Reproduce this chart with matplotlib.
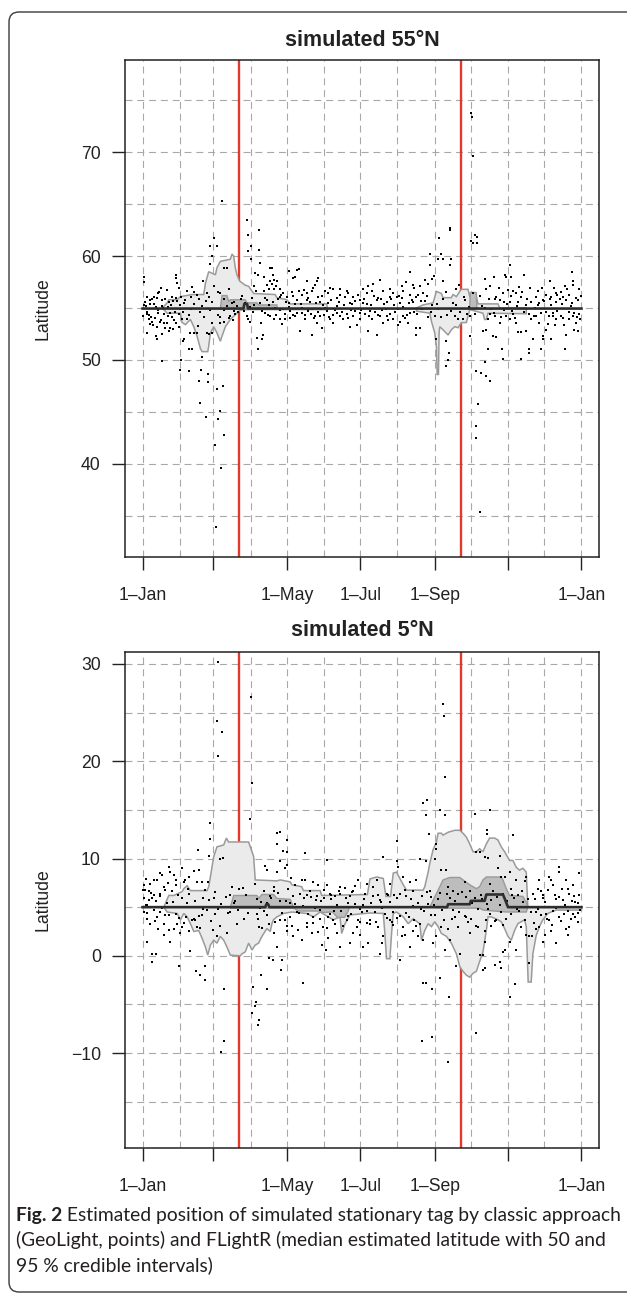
import matplotlib
matplotlib.use('Agg')
import matplotlib.pyplot as plt
from matplotlib.patches import FancyBboxPatch
from matplotlib.transforms import IdentityTransform

plt.rcParams['font.family'] = ['Liberation Sans', 'DejaVu Sans']
plt.rcParams['lines.scale_dashes'] = False

# ---- data (day of year from 1-Jan, latitude) ----
month_starts = [0, 31, 59, 90, 120, 151, 181, 212, 243, 273, 304, 334, 365]
tick_days = [0, 59, 120, 181, 243, 304, 365]
tick_labels = ['1\u2013Jan', '', '1\u2013May', '1\u2013Jul', '1\u2013Sep', '', '1\u2013Jan']
equinox_days = [80, 265]

# simulated 55N: GeoLight points
top_points = [
    (1.1, 58.0), (1.1, 57.5), (2.5, 55.2), (1.1, 55.3), (3.3, 54.4), (5.3, 53.9), (8.0, 53.7), (3.9, 52.6),
    (10.8, 52.3), (11.6, 52.0), (16.3, 52.5), (16.3, 49.9), (14.9, 53.7), (17.7, 53.6), (12.2, 53.2), (20.5, 53.6),
    (23.2, 53.1), (25.2, 53.0), (26.0, 53.8), (9.4, 56.1), (12.2, 56.0), (6.6, 55.8), (16.3, 55.8), (21.8, 55.6),
    (24.6, 56.1), (27.4, 58.2), (28.2, 57.9), (28.8, 57.4), (30.1, 56.9), (4, 54.6), (6, 55.4), (7, 54.1),
    (9, 53.4), (11, 55.1), (13, 54.8), (14, 56.5), (16, 55.2), (18, 54.4), (19, 55.9), (21, 54.2), (22, 52.8),
    (24, 55.3), (27, 54.6), (29, 55.7), (30, 53.2), (31, 54.9),
    (37.1, 56.6), (41.2, 57.0), (50.3, 57.6), (45.3, 56.3), (40.4, 56.1), (53.6, 56.4), (46.7, 55.9), (32.1, 56.1),
    (34.3, 55.5), (49.5, 55.2), (59.7, 61.7), (56.4, 61.0), (61.9, 61.0), (57.8, 60.0), (55.9, 59.2), (67.5, 58.9),
    (70.2, 58.9), (66.1, 65.3), (59.2, 57.1), (64.7, 56.4), (55.0, 56.1), (70.2, 55.2), (74.4, 55.5), (78.5, 55.2),
    (32.9, 53.9), (34.3, 52.0), (33.7, 51.8), (38.4, 51.1), (41.2, 51.1), (39.8, 52.6), (42.6, 52.6), (45.3, 52.6),
    (45.9, 53.3), (53.6, 52.6), (55.0, 52.5), (57.8, 52.6), (64.1, 54.1), (64.7, 53.6), (67.5, 53.7), (49.5, 50.3),
    (32.1, 50.0), (31.5, 49.0), (38.4, 48.9), (48.9, 49.0), (54.2, 48.6), (47.3, 48.0), (54.2, 47.9), (61.9, 47.2),
    (66.9, 47.5), (48.1, 45.9), (53.1, 44.5), (64.7, 45.1), (62.8, 44.3), (68.0, 42.8), (60.6, 41.8), (65.3, 39.6),
    (61.4, 33.9), (73.0, 54.2), (75.8, 54.7), (77.1, 54.4),
    (86.8, 63.5), (96.5, 62.5), (87.7, 62.0), (90.4, 61.0), (87.7, 60.5), (96.5, 60.6), (90.1, 59.7), (97.9, 59.3),
    (105.6, 58.9), (107.6, 58.9), (93.7, 58.4), (95.7, 58.2), (101.2, 58.0), (108.4, 58.2), (109.5, 57.7),
    (106.2, 57.6), (107.6, 57.3), (103.4, 57.2), (111.7, 57.6), (104.8, 56.8), (109.0, 56.8), (111.2, 57.1),
    (114.5, 56.8), (121.4, 58.6), (117.2, 56.4), (113.9, 56.1), (120.0, 56.1), (92.4, 57.1), (100.6, 56.6),
    (91.0, 56.0), (97.9, 55.5), (103.4, 55.8), (89.6, 53.7), (91.8, 54.6), (95.1, 52.1), (95.9, 51.1),
    (100.1, 52.4), (99.3, 52.0), (111.2, 54.3), (114.5, 53.9), (115.9, 53.5), (114.5, 54.8), (84.1, 54.7),
    (86.8, 54.2), (102.0, 54.5), (106.2, 54.2), (108.9, 53.9), (118.6, 54.4),
    (125.5, 57.9), (126.9, 58.0), (128.3, 58.7), (129.7, 58.8), (136.6, 57.6), (146.3, 57.9), (144.9, 57.6),
    (143.5, 57.2), (142.1, 56.9), (140.8, 56.6), (136.6, 56.4), (132.4, 56.3), (125.5, 56.2), (154.6, 56.4),
    (158.7, 56.8), (161.5, 56.0), (164.2, 56.3), (169.8, 56.6), (175.3, 56.1), (179.5, 56.3), (180.8, 55.8),
    (186.4, 56.4), (187.8, 57.1), (156.0, 56.9), (136.6, 55.8), (147.7, 55.6), (150.4, 55.3), (172.5, 55.5),
    (183.6, 55.5), (121.4, 55.5), (128.3, 55.8), (122.8, 54.7), (125.5, 54.3), (131.1, 52.8), (132.4, 54.5),
    (140.8, 52.4), (140.2, 54.4), (143.5, 54.2), (149.0, 53.1), (151.0, 54.3), (156.0, 53.9), (161.5, 54.5),
    (164.2, 54.2), (169.8, 54.4), (172.5, 53.2), (175.3, 54.2), (180.8, 53.9), (187.8, 52.8), (135.2, 53.9),
    (138.0, 54.7), (144.9, 53.6), (153.2, 54.7), (158.7, 53.6), (167.0, 53.9), (178.1, 53.4), (185.0, 54.4),
    (126.9, 54.2), (147.7, 54.2),
    (191.9, 57.3), (197.4, 57.7), (215.4, 57.1), (219.5, 57.5), (222.8, 58.5), (224.5, 57.2), (230.6, 57.1),
    (234.7, 57.7), (237.5, 57.3), (240.3, 57.8), (242.2, 58.1), (238.9, 59.1), (238.9, 60.2), (248.5, 60.2),
    (245.8, 59.7), (249.9, 59.7), (256.8, 59.7), (255.5, 59.1), (249.9, 57.6), (246.3, 61.7), (256.0, 62.7),
    (256.0, 62.5), (200.2, 56.6), (205.7, 56.1), (208.5, 56.4), (190.5, 56.6), (194.6, 55.8), (202.9, 55.6),
    (211.2, 56.1), (216.8, 56.6), (222.3, 56.3), (227.8, 56.1), (225.0, 55.6), (214.0, 55.5), (233.3, 56.4),
    (190.5, 53.9), (194.6, 52.4), (197.4, 54.2), (202.9, 54.2), (205.7, 54.4), (212.6, 53.4), (214.0, 53.7),
    (220.9, 53.6), (227.8, 53.1), (230.6, 53.1), (227.8, 52.4), (216.8, 54.2), (222.3, 54.5), (208.5, 53.9),
    (200.2, 53.6), (244.4, 52.0), (252.7, 51.8), (254.6, 50.7), (254.1, 50.0), (252.7, 49.4), (243.0, 54.2),
    (259.6, 54.2), (262.4, 53.9),
    (273.4, 61.5), (276.2, 62.0), (278.1, 61.8), (274.8, 61.3), (278.1, 61.3), (305.2, 59.1), (301.1, 58.2),
    (302.5, 58.0), (306.6, 58.0), (316.9, 58.2), (292.0, 58.0), (284.5, 57.8), (288.6, 57.1), (294.2, 56.1),
    (299.7, 56.4), (308.0, 56.6), (310.8, 56.4), (314.9, 56.1), (296.9, 55.8), (305.2, 55.6),
    (273.5, 73.8), (274.0, 73.4), (274.5, 69.6),
    (277.0, 48.9), (281.2, 48.7), (285.3, 48.5), (289.2, 48.0), (284.5, 49.8), (287.5, 51.1), (279.2, 45.8),
    (277.6, 43.6), (277.0, 42.5), (299.1, 51.1), (299.7, 50.1), (314.9, 50.1), (321.8, 50.7), (321.8, 51.1),
    (291.4, 52.3), (293.6, 52.2), (296.9, 53.6), (283.1, 52.8), (285.9, 52.9), (287.3, 53.9), (288.6, 54.4),
    (292.8, 54.2), (302.5, 54.2), (308.0, 54.4), (312.1, 52.7), (314.9, 52.7), (319.1, 52.8), (305.2, 53.9),
    (310.8, 53.6), (266.5, 53.9), (272.1, 54.2), (272.1, 52.3), (280.4, 35.4),
    (357.2, 58.5), (358.3, 57.6), (357.8, 57.2), (363.3, 56.8), (339.0, 57.6), (348.1, 56.5), (355.0, 56.3),
    (327.4, 56.1), (332.9, 55.8), (339.8, 56.1), (343.9, 55.6), (349.5, 56.1), (352.2, 55.8), (360.5, 56.0),
    (323.2, 55.6), (330.1, 55.5), (335.6, 56.3), (343.9, 56.4), (324.6, 52.0), (331.5, 51.1), (332.9, 52.0),
    (339.8, 52.0), (351.7, 51.1), (352.2, 52.4), (361.9, 52.8), (335.6, 52.9), (332.9, 52.3), (342.6, 53.4),
    (327.4, 54.2), (330.1, 53.6), (338.4, 54.2), (343.9, 53.9), (348.1, 54.2), (355.0, 53.9), (357.8, 54.2),
    (360.5, 53.6), (363.3, 54.4), (321.8, 54.4), (341.2, 54.5), (350.8, 53.4), (359.1, 52.9),
    (2, 55.6), (5, 54.3), (8, 55.9), (10, 54.0), (13, 56.4), (15, 53.8), (17, 55.0), (20, 56.7), (23, 54.5),
    (25, 55.7), (28, 53.6), (31, 55.3), (34, 54.6), (37, 53.9), (40, 54.9), (43, 55.4), (51, 54.1), (56, 54.8),
    (58, 55.6), (63, 54.3), (68, 55.9), (72, 54.0), (76, 55.6), (79, 54.6), (83, 56.2), (85, 55.5), (88, 53.9),
    (93, 55.3), (99, 54.7), (102, 56.0), (105, 55.3), (110, 55.0), (113, 55.9), (117, 54.9), (119, 55.6),
    (123, 54.0), (127, 55.4), (130, 56.6), (133, 55.0), (135, 54.3), (138, 56.0), (141, 54.9), (144, 55.5),
    (146, 54.6), (149, 56.2), (152, 55.0), (155, 54.1), (157, 55.8), (160, 54.8), (163, 55.6), (166, 54.6),
    (168, 56.1), (171, 54.0), (174, 55.4), (177, 54.7), (179, 56.3), (182, 54.8), (184, 55.9), (188, 54.2),
    (190, 55.3), (193, 54.6), (196, 56.0), (199, 54.8), (201, 55.4), (204, 53.8), (207, 55.9), (210, 54.6),
    (213, 56.2), (217, 55.1), (220, 54.3), (224, 55.8), (226, 54.6), (229, 56.3), (232, 54.9), (235, 55.7),
    (237, 54.1), (241, 55.3), (246, 54.9), (250, 55.9), (253, 54.3), (258, 55.5), (261, 56.8), (264, 54.6),
    (268, 55.8), (270, 54.4), (275, 56.4), (282, 55.2), (286, 56.8), (290, 54.9), (293, 55.9), (298, 54.1),
    (301, 55.6), (304, 56.7), (307, 54.7), (311, 55.2), (313, 57.0), (317, 54.6), (320, 55.9), (323, 53.9),
    (326, 55.0), (329, 56.6), (331, 54.5), (334, 55.7), (337, 53.5), (340, 55.3), (342, 56.9), (345, 54.7),
    (347, 55.9), (350, 54.0), (353, 56.8), (356, 55.2), (359, 54.5), (362, 55.8), (364, 53.9),
    (0.5, 54.2), (3.5, 56.1), (6.5, 53.5), (9.5, 55.4), (12.5, 54.5), (15.5, 56.9), (18.5, 53.1), (21.5, 55.1),
    (24.5, 54.1), (27.5, 56.0), (30.5, 54.4), (35.5, 55.8), (38.5, 54.3), (42.5, 56.5), (47.5, 54.6), (52.5, 55.7),
    (57.5, 53.6), (62.5, 56.5), (67.5, 54.8), (71.5, 56.8), (75.5, 53.8), (81.5, 55.9), (89.5, 55.1), (94.5, 56.6),
    (98.5, 53.6), (104.5, 54.3), (108.5, 55.6), (115.5, 56.3), (118.5, 53.9), (121.5, 55.1), (124.5, 56.5),
    (128.5, 54.5), (131.5, 55.4), (134.5, 56.7), (137.5, 54.9), (139.5, 55.6), (142.5, 54.0), (145.5, 56.1),
    (148.5, 54.9), (151.5, 56.6), (154.5, 55.5), (158.5, 54.3), (161.5, 55.2), (164.5, 56.8), (167.5, 55.3),
    (170.5, 56.4), (173.5, 54.8), (176.5, 55.7), (180.5, 54.5), (183.5, 56.8), (186.5, 55.4), (189.5, 54.7),
    (192.5, 56.2), (195.5, 54.3), (198.5, 55.9), (202.5, 54.9), (205.5, 56.8), (209.5, 55.3), (212.5, 54.9),
    (215.5, 56.0), (218.5, 54.0), (221.5, 55.5), (225.5, 56.9), (228.5, 54.4), (231.5, 55.7), (236.5, 56.2),
    (239.5, 54.6), (244.5, 55.4), (248.5, 54.1), (252.5, 56.5), (256.5, 54.7), (260.5, 55.3), (263.5, 57.2),
    (267.5, 56.1), (271.5, 55.1), (276.5, 54.4), (280.5, 56.2), (284.5, 55.0), (288.5, 55.9), (292.5, 54.5),
    (296.5, 56.9), (300.5, 54.8), (303.5, 55.4), (306.5, 56.2), (309.5, 54.0), (312.5, 55.6), (315.5, 56.5),
    (318.5, 55.3), (322.5, 56.9), (325.5, 54.2), (328.5, 55.3), (332.5, 56.9), (335.5, 54.6), (338.5, 55.9),
    (341.5, 54.2), (344.5, 56.3), (348.5, 55.4), (351.5, 57.1), (354.5, 54.6), (357.5, 55.5), (361.5, 54.1),
    (364.5, 56.2),
]

# simulated 55N: FLightR intervals (upper edge, lower edge) per region
top_q95 = [
    ([(16.3, 55.0), (20.5, 55.5), (21.8, 55.8), (28.8, 55.8), (31.5, 56.1), (41.2, 56.3), (50.9, 56.3),
      (52.3, 57.4), (55.0, 58.5), (60.6, 58.2), (61.9, 58.9), (64.7, 59.5), (73.0, 59.7), (74.4, 60.2),
      (75.8, 60.0), (77.1, 58.9), (78.5, 58.2), (80.7, 57.6), (85.4, 57.2), (88.2, 57.1), (92.4, 56.4),
      (110.3, 56.3), (111.7, 56.0), (120.0, 55.8), (122.8, 55.4), (153.2, 55.4), (153.6, 55.0)],
     [(16.3, 55.0), (20.5, 54.5), (31.5, 54.5), (32.9, 53.6), (35.7, 53.4), (39.8, 53.9), (42.6, 53.2),
      (45.3, 52.3), (48.1, 51.1), (49.5, 50.8), (54.2, 50.8), (55.0, 51.3), (56.4, 52.6), (59.2, 53.2),
      (61.9, 52.6), (64.7, 51.8), (66.1, 52.3), (68.9, 53.2), (73.0, 53.9), (78.5, 54.5), (81.3, 54.8),
      (86.8, 54.85), (153.6, 54.85)]),
    ([(227.8, 55.0), (233.3, 55.3), (241.6, 55.5), (244.4, 56.6), (248.5, 56.4), (249.9, 56.0), (256.8, 56.0),
      (258.2, 56.3), (261.0, 56.1), (263.8, 56.6), (265.1, 56.8), (270.7, 56.8), (272.1, 56.1), (277.6, 56.1),
      (279.0, 55.4), (295.6, 55.4), (297.0, 55.0), (319.1, 55.0)],
     [(227.8, 54.7), (238.9, 54.5), (240.3, 53.7), (243.0, 52.6), (244.4, 51.3), (245.0, 48.6), (246.1, 48.6),
      (246.6, 52.6), (247.2, 53.2), (249.9, 52.9), (254.1, 52.4), (256.8, 52.9), (259.6, 53.2), (262.4, 53.1),
      (265.1, 53.6), (269.3, 53.6), (272.1, 54.85), (283.1, 54.5), (284.5, 53.9), (285.9, 53.9), (287.3, 54.5),
      (319.1, 54.45)]),
]
top_q50 = [
    ([(64.7, 55.0), (66.1, 56.2), (70.2, 56.2), (71.6, 55.6), (73.0, 55.8), (85.4, 55.8), (86.8, 55.5),
      (95.1, 55.5), (96.5, 55.3), (111.7, 55.3), (112.0, 55.0)],
     [(64.7, 54.9), (112.0, 54.9)]),
    ([(272.1, 55.0), (272.5, 56.5), (277.6, 56.5), (278.0, 55.0)],
     [(272.1, 54.9), (278.0, 54.9)]),
]
top_median_day = [0, 84, 84.6, 87, 87.6, 365]
top_median_lat = [54.95, 54.95, 55.4, 55.4, 54.95, 54.95]

# simulated 5N: GeoLight points
bottom_points = [
    (2.5, 7.9), (1.1, 7.3), (1.7, 6.8), (9.4, 7.8), (12.2, 7.8), (14.4, 8.5), (16.3, 8.3), (21.8, 9.1), (23.2, 8.6),
    (26.0, 8.3), (27.4, 7.8), (14.9, 6.1), (8.0, 5.9), (9.4, 6.2), (5.3, 5.7), (3.9, 5.2), (2.5, 5.2), (1.1, 4.5),
    (3.3, 1.4), (8.0, 0.2), (8.0, -0.6), (10.8, 0.2), (17.7, 3.3), (18.2, 2.1), (21.8, 2.6), (23.2, 1.4), (27.4, 4.3),
    (28.8, 3.3), (30.1, -1.0), (12.2, 4.0), (14.9, 4.5), (6.6, 3.3), (9.4, 4.7), (20.5, 5.4), (24.6, 6.7), (17.7, 7.1),
    (5.3, 6.7),
    (32.9, 9.0), (35.7, 7.8), (34.3, 7.6), (38.4, 8.1), (42.6, 8.7), (45.3, 7.6), (46.7, 8.8), (49.5, 7.6), (50.3, 5.9),
    (55.0, 5.7), (59.2, 5.9), (46.2, 10.9), (55.9, 13.6), (56.4, 12.0), (64.7, 9.9), (66.9, 10.1), (55.0, 10.3),
    (32.9, 3.0), (38.4, 2.5), (39.8, 0.5), (41.2, 3.7), (42.6, 3.8), (44.0, 3.7), (48.1, 2.9), (49.5, 4.2),
    (52.3, -1.0), (48.1, -2.0), (44.8, -1.6), (52.3, -2.5), (60.6, 4.3), (64.7, 3.1), (68.0, -3.4), (31.5, 2.3),
    (73.0, 4.5), (75.8, 5.4), (78.5, 3.3), (70.2, 2.3), (61.9, 2.0), (37.1, 5.4), (53.6, 4.7),
    (62.8, 30.2), (62.0, 24.1), (66.1, 23.0), (62.8, 20.5), (67.5, -8.8), (65.3, -9.9),
    (91.0, 17.8), (89.6, 14.1), (111.7, 12.6), (114.5, 12.7), (111.7, 11.5), (120.0, 11.9), (117.2, 10.8),
    (120.0, 10.7), (114.5, 9.7), (102.0, 9.2), (103.4, 8.8), (111.7, 8.6), (118.6, 9.0), (120.0, 9.3), (95.1, 4.3),
    (95.7, 3.8), (97.9, 4.9), (103.4, 5.4), (103.4, 4.2), (104.8, -0.2), (108.4, -0.4), (111.7, 0.9), (111.7, 5.0),
    (115.3, -1.5), (115.9, -0.4), (120.0, 2.5), (120.0, 3.1), (91.8, -3.2), (98.4, -2.0), (103.4, -3.4), (94.6, -4.7),
    (93.7, -5.2), (96.5, -6.6), (96.0, -7.1), (91.0, -5.9), (90.1, 26.6), (108.9, 7.1), (100.6, 6.7), (93.7, 7.4),
    (106.2, 6.1), (96.5, 3.0), (114.5, 3.7), (108.9, 2.3),
    (123.6, 8.0), (132.4, 7.8), (135.2, 7.8), (142.1, 7.6), (146.3, 7.3), (153.2, 7.3), (164.2, 7.1), (168.7, 7.0),
    (179.5, 7.8), (164.2, 6.4), (160.1, 6.1), (156.0, 6.4), (135.2, 10.6), (153.2, 9.8), (122.8, 4.0), (125.5, 2.0),
    (132.4, 1.6), (133.3, -2.8), (140.8, 2.3), (142.1, 4.0), (149.0, 1.1), (152.6, 0.6), (154.6, 1.8), (158.7, 3.7),
    (164.2, 0.9), (172.5, 1.3), (175.3, 2.3), (179.5, 3.7), (180.8, 2.1), (183.6, 0.9), (187.8, 1.3), (189.1, 3.7),
    (182.2, 4.5), (131.1, 6.4), (139.4, 6.7), (144.9, 6.1), (147.7, 4.7), (150.4, 3.0), (161.5, 2.3), (167.0, 5.0),
    (172.5, 6.1), (175.3, 6.7), (185.0, 6.4), (186.4, 7.4), (128.3, 4.5), (136.6, 3.0), (156.0, 4.3), (169.8, 3.7),
    (178.1, 3.0), (125.5, 6.1), (138.0, 4.3),
    (200.2, 10.2), (211.2, 9.7), (212.6, 9.1), (211.2, 11.8), (230.6, 10.0), (236.1, 9.7), (243.0, 10.0), (248.5, 8.8),
    (252.7, 8.8), (233.3, 15.7), (236.7, 16.0), (236.1, 14.5), (247.2, 15.0), (251.3, 14.5), (238.3, 12.5),
    (244.4, 11.5), (244.4, 11.0), (194.6, 7.8), (191.9, 7.1), (205.7, 7.4), (216.8, 8.1), (222.3, 7.6), (225.0, 6.7),
    (227.8, 7.8), (219.5, 6.1), (202.9, 6.4), (197.4, 5.7), (258.2, 6.7), (262.4, 6.4), (214.0, 6.4), (238.9, 6.7),
    (254.1, 7.1), (250.0, 25.9), (250.5, 24.7), (251.3, 18.4), (232.8, -8.8), (240.3, -8.3), (254.1, -10.9),
    (189.1, 3.3), (196.0, 3.0), (200.2, 2.0), (198.8, 1.3), (205.7, 3.7), (207.1, 3.5), (215.4, 2.0), (218.1, 2.1),
    (216.8, 3.0), (225.0, 2.5), (229.2, 2.0), (233.3, 1.6), (241.6, 1.3), (244.4, 2.0), (248.5, 3.0), (254.1, 2.8),
    (255.5, 1.6), (259.6, 4.0), (233.3, -2.8), (235.5, -2.8), (240.3, -3.4), (247.7, -2.3), (254.6, -4.2),
    (214.0, -0.4), (197.4, 0.2), (222.3, 0.9), (230.6, 3.3), (208.5, 4.5), (263.8, 0.2), (261.0, -1.1), (251.3, 0.6),
    (288.7, 15.0), (276.2, 14.6), (286.4, 12.9), (286.4, 12.5), (308.0, 12.4), (277.6, 10.7), (280.3, 10.7),
    (284.5, 10.2), (287.3, 10.1), (296.9, 10.3), (295.6, 9.0), (298.3, 8.1), (305.2, 8.6), (288.6, 7.4), (291.4, 6.7),
    (299.7, 6.4), (306.6, 6.9), (301.1, 8.1), (317.7, 7.7), (319.1, 8.1), (272.1, 6.7), (267.9, 7.6), (310.8, 7.8),
    (312.1, 6.2), (277.6, 3.1), (279.0, 3.0), (284.5, 2.5), (284.5, 1.4), (285.9, 3.7), (283.1, 0.1), (280.3, 0.1),
    (283.1, -1.5), (284.5, -1.3), (292.8, -0.9), (296.9, -0.6), (299.7, 0.4), (301.1, 0.6), (298.3, -1.3),
    (305.2, 1.4), (310.8, 0.6), (319.1, 2.1), (305.2, -4.2), (309.4, -2.9), (277.6, -7.9), (269.3, 4.0),
    (272.1, 2.3), (314.9, 3.0), (294.2, 3.7), (288.6, 4.3),
    (330.1, 7.8), (331.5, 6.7), (338.4, 8.1), (339.8, 7.8), (341.2, 7.3), (342.6, 6.2), (346.7, 9.1), (346.7, 8.6),
    (348.9, 6.9), (352.2, 7.8), (355.0, 6.4), (357.8, 7.3), (363.3, 8.5), (361.9, 5.4), (324.6, 6.4), (332.9, 5.9),
    (349.5, 5.7), (359.1, 6.1), (321.8, 2.0), (324.0, 2.0), (327.4, 2.8), (330.1, 3.0), (332.9, 1.4), (334.3, 2.1),
    (339.8, 2.5), (343.9, 1.3), (352.2, 2.8), (355.0, 3.0), (353.6, 2.1), (321.8, -0.7), (338.4, 3.7), (346.7, 4.0),
    (357.8, 4.3), (361.9, 3.5), (327.4, 4.5), (335.6, 4.3),
    (1, 5.9), (4, 3.8), (7, 6.5), (11, 5.6), (13, 2.8), (16, 4.9), (19, 6.8), (22, 4.2), (25, 5.5), (28, 7.3),
    (30, 3.9), (33, 5.9), (36, 4.0), (39, 6.4), (44, 5.6), (47, 4.1), (52, 6.8), (57, 3.6), (60, 6.6), (63, 4.8),
    (69, 6.0), (71, 4.4), (74, 7.1), (77, 5.6), (80, 6.9), (84, 3.8), (86, 6.2), (95, 5.8), (99, 2.9), (101, 4.6),
    (107, 5.9), (110, 3.5), (113, 6.5), (116, 4.4), (119, 5.6), (121, 6.9), (124, 3.1), (127, 5.3), (130, 4.4),
    (134, 5.9), (137, 3.4), (140, 6.0), (143, 4.9), (146, 2.4), (148, 5.6), (151, 6.8), (154, 4.0), (157, 5.8),
    (160, 3.3), (162, 5.2), (165, 4.6), (169, 5.9), (171, 4.1), (174, 6.6), (177, 5.3), (181, 4.8), (184, 5.8),
    (187, 3.4), (190, 5.4), (193, 4.5), (196, 6.3), (199, 4.9), (203, 3.9), (206, 5.5), (209, 6.2), (212, 3.9),
    (216, 5.0), (219, 4.4), (223, 5.8), (226, 3.7), (229, 5.4), (232, 6.1), (234, 4.6), (237, 5.3), (240, 6.0),
    (243, 4.2), (246, 5.8), (249, 4.7), (253, 6.4), (257, 3.8), (260, 5.6), (263, 4.5), (266, 5.3), (269, 6.0),
    (271, 3.5), (274, 5.4), (279, 4.8), (282, 5.8), (287, 4.8), (290, 5.7), (293, 3.6), (297, 5.2), (300, 3.2),
    (303, 5.6), (306, 4.3), (309, 5.9), (313, 4.6), (316, 5.5), (318, 3.7), (323, 4.5), (326, 5.8), (329, 4.8),
    (333, 6.2), (336, 3.8), (341, 4.6), (344, 5.8), (348, 3.6), (351, 5.2), (354, 4.6), (357, 5.6), (360, 4.0),
    (363, 6.3), (364, 4.7),
    (0.5, 6.8), (3.5, 4.4), (6.5, 7.4), (10.5, 3.6), (14.5, 6.4), (18.5, 4.2), (21.5, 7.5), (26.5, 2.8), (29.5, 6.2),
    (34.5, 3.4), (37.5, 6.9), (41.5, 5.0), (45.5, 3.0), (50.5, 4.8), (54.5, 7.6), (58.5, 2.6), (65.5, 5.3),
    (72.5, 6.3), (79.5, 4.7), (83.5, 7.0), (87.5, 4.4), (98.5, 5.5), (105.5, 3.3), (109.5, 6.7), (114.5, 5.6),
    (118.5, 3.7), (122.5, 5.4), (126.5, 7.3), (129.5, 2.7), (133.5, 5.1), (136.5, 6.2), (141.5, 3.4), (144.5, 5.7),
    (147.5, 3.8), (150.5, 5.9), (153.5, 2.9), (156.5, 6.3), (159.5, 4.6), (163.5, 6.7), (166.5, 3.1), (170.5, 5.4),
    (173.5, 4.3), (176.5, 7.2), (180.5, 3.5), (183.5, 5.2), (186.5, 4.6), (191.5, 6.1), (194.5, 3.5), (198.5, 5.5),
    (201.5, 4.3), (204.5, 6.3), (208.5, 3.2), (211.5, 5.9), (214.5, 4.1), (218.5, 6.8), (221.5, 4.0), (224.5, 5.1),
    (227.5, 3.1), (231.5, 4.8), (236.5, 6.6), (239.5, 4.2), (242.5, 5.2), (247.5, 6.5), (250.5, 3.7), (255.5, 5.9),
    (258.5, 4.7), (262.5, 3.0), (265.5, 6.6), (268.5, 4.1), (273.5, 3.8), (276.5, 5.9), (281.5, 6.3), (286.5, 5.3),
    (289.5, 3.1), (294.5, 6.0), (298.5, 4.5), (302.5, 3.8), (307.5, 6.3), (311.5, 4.8), (315.5, 6.7), (320.5, 5.8),
    (325.5, 3.4), (328.5, 6.9), (331.5, 4.2), (334.5, 5.5), (337.5, 6.8), (340.5, 3.2), (343.5, 4.9), (346.5, 6.0),
    (350.5, 4.3), (353.5, 6.9), (356.5, 3.8), (359.5, 5.5), (362.5, 4.4),
]

bottom_q95 = [
    ([(0, 5.0), (17.7, 5.0), (21.8, 6.2), (26.0, 6.2), (32.9, 6.6), (34.3, 6.9), (37.1, 7.2), (39.8, 6.7),
      (53.6, 6.7), (55.0, 7.1), (56.4, 8.1), (59.2, 10.2), (61.9, 11.2), (67.5, 11.4), (69.7, 12.1), (71.6, 11.7),
      (88.2, 11.7), (89.6, 11.2), (92.4, 10.2), (93.7, 7.8), (111.7, 7.7), (114.5, 7.8), (122.8, 7.6),
      (124.2, 7.3), (132.4, 7.1), (133.8, 6.7), (147.7, 6.7), (149.0, 6.2), (187.0, 6.3), (189.1, 7.9),
      (194.6, 8.1), (200.2, 7.95), (202.4, 6.1), (206.2, 6.1), (208.5, 8.5), (211.2, 8.6), (214.0, 7.95),
      (216.8, 7.3), (219.5, 6.75), (233.3, 6.75), (234.7, 7.1), (237.5, 8.6), (238.9, 9.5), (241.6, 10.9),
      (244.4, 11.7), (245.8, 12.6), (248.5, 12.6), (249.9, 12.4), (254.1, 12.7), (259.6, 12.9), (263.8, 12.9),
      (266.5, 12.6), (269.3, 12.2), (272.1, 11.5), (274.8, 10.7), (277.6, 10.7), (280.3, 11.0), (283.1, 10.7),
      (285.9, 11.5), (288.6, 12.1), (292.8, 12.1), (295.6, 11.9), (298.3, 11.2), (301.1, 10.7), (305.2, 9.8),
      (308.0, 9.8), (310.8, 9.1), (313.5, 8.8), (316.3, 9.0), (319.1, 8.6), (320.4, 5.0), (365, 5.0)],
     [(0, 5.0), (17.7, 5.0), (20.5, 4.5), (28.8, 4.35), (31.5, 3.7), (34.3, 4.35), (37.1, 4.0), (39.8, 3.3),
      (42.6, 2.5), (46.7, 2.6), (49.5, 1.8), (52.3, 0.9), (54.2, 0.07), (56.4, 1.1), (59.2, 1.6), (61.9, 1.3),
      (64.7, 2.0), (67.5, 1.6), (70.2, 0.9), (73.0, 0.07), (81.3, 0.0), (82.7, 0.2), (85.4, 0.4), (88.2, 1.3),
      (91.0, 0.6), (93.7, 1.1), (96.5, 1.3), (99.3, 2.0), (103.4, 2.8), (106.2, 2.5), (107.6, 3.3), (108.9, 3.7),
      (111.7, 4.0), (117.2, 4.35), (124.2, 4.5), (136.6, 4.35), (142.1, 4.0), (147.7, 4.5), (158.7, 3.7),
      (164.2, 4.0), (165.6, 2.3), (168.4, 3.3), (172.5, 4.2), (189.1, 4.4), (200.2, 4.35), (201.5, 2.3),
      (202.9, -0.3), (205.7, -0.3), (207.1, 2.3), (208.5, 4.35), (211.2, 4.5), (216.8, 4.0), (220.9, 3.3),
      (225.0, 3.8), (230.6, 3.3), (232.0, 1.6), (234.7, 2.6), (237.5, 3.3), (240.3, 3.0), (243.0, 3.5),
      (245.8, 3.0), (248.5, 2.3), (252.7, 2.0), (256.8, 1.3), (261.0, 0.2), (263.8, -1.1), (266.5, -1.6),
      (269.3, -2.0), (272.1, -2.2), (274.8, -1.8), (277.6, -1.6), (280.3, -0.6), (283.1, 0.4), (285.9, 2.6),
      (287.3, 4.0), (290.0, 4.0), (295.6, 3.7), (298.3, 3.5), (301.1, 2.8), (303.9, 2.0), (306.6, 1.6),
      (309.4, 2.6), (312.1, 3.3), (317.7, 3.7), (319.1, 3.0), (320.7, -2.7), (323.2, -2.7), (324.6, 0.2),
      (327.4, 2.1), (330.1, 3.0), (332.9, 3.7), (337.0, 4.35), (339.8, 4.5), (344.0, 4.7), (365, 4.7)]),
]
bottom_q50 = [
    ([(73.0, 5.0), (75.8, 6.2), (95.1, 6.2), (96.5, 5.9), (99.3, 6.3), (108.9, 6.3), (111.7, 5.9), (122.8, 5.8),
      (125.5, 5.0)],
     [(73.0, 4.9), (125.5, 4.9)]),
    ([(125.5, 5.0), (172.0, 5.0)],
     [(125.5, 4.9), (130.0, 4.6), (147.0, 4.6), (150.0, 4.45), (158.0, 4.5), (162.0, 3.95), (168.0, 3.95),
      (171.0, 4.6), (172.0, 5.0)]),
    ([(238.9, 5.0), (241.6, 5.7), (247.2, 7.1), (249.9, 7.8), (255.5, 8.05), (263.8, 8.05), (266.5, 7.8),
      (272.1, 7.3), (277.6, 6.9), (280.3, 7.1), (283.1, 7.8), (285.9, 8.1), (298.3, 8.1), (299.7, 7.8),
      (302.5, 6.9), (305.2, 6.2), (316.3, 6.1), (319.1, 5.5), (320.4, 5.0)],
     [(238.9, 5.0), (252.7, 4.9), (280.3, 4.9), (283.1, 4.7), (302.5, 4.5), (319.1, 4.5), (320.4, 5.0)]),
]
bottom_median_day = [0, 102, 103, 104.5, 105.5, 253.3, 254.1, 272.1, 273.0, 284.5, 285.9, 299.7, 301.1, 303.9, 365]
bottom_median_lat = [5.0, 5.0, 5.3, 5.3, 5.0, 5.0, 5.3, 5.3, 5.65, 5.65, 6.3, 6.3, 5.9, 5.0, 5.0]

W, H = 627, 1294
fig = plt.figure(figsize=(W / 100, H / 100), dpi=100)

# outer rounded frame of the figure panel
frame = FancyBboxPatch((9, 2), 660, 1280, boxstyle='round,pad=0,rounding_size=10',
                       transform=IdentityTransform(), fill=False, ec='#3a3a3a', lw=1.0)
fig.patches.append(frame)

grid_col = '#a8a8a8'
band_edge = '#9a9a9a'


def draw_panel(ax, points, q95, q50, med_day, med_lat, ylim, yticks, ygrid):
    ax.set_xlim(-14.6, 379.6)
    ax.set_ylim(*ylim)
    for d in month_starts:
        ax.axvline(d, color=grid_col, lw=0.8, ls=(0, (5, 3.5)), zorder=0)
    for g in ygrid:
        ax.axhline(g, color=grid_col, lw=0.8, ls=(0, (5, 3.5)), zorder=0)
    for d in equinox_days:
        ax.axvline(d, color='#e2392b', lw=1.7, zorder=1)
    for upper, lower in q95:
        poly = upper + lower[::-1]
        ax.fill([p[0] for p in poly], [p[1] for p in poly], fc='#ebebeb', ec=band_edge, lw=1.1, zorder=2)
    for upper, lower in q50:
        poly = upper + lower[::-1]
        ax.fill([p[0] for p in poly], [p[1] for p in poly], fc='#bdbdbd', ec=band_edge, lw=1.0, zorder=3)
    ax.scatter([p[0] for p in points], [p[1] for p in points], s=2.8, marker='s', c='black', lw=0, zorder=4)
    ax.plot(med_day, med_lat, color='#2e2e2e', lw=1.9, zorder=5)
    ax.set_xticks(tick_days)
    ax.set_xticklabels(tick_labels)
    ax.set_yticks(yticks)
    ax.tick_params(length=9.4, width=1.0, color='#222222', labelsize=12.7, labelcolor='#222222')
    ax.tick_params(axis='x', pad=12)
    ax.tick_params(axis='y', pad=8)
    for s in ax.spines.values():
        s.set_linewidth(1.1)
        s.set_color('#222222')


ax1 = fig.add_axes([125 / W, 1 - 557 / H, 474 / W, 497 / H])
draw_panel(ax1, top_points, top_q95, top_q50, top_median_day, top_median_lat,
           (31.02, 78.89), [40, 50, 60, 70], list(range(35, 80, 5)))
ax2 = fig.add_axes([125 / W, 1 - 1148 / H, 474 / W, 496 / H])
draw_panel(ax2, bottom_points, bottom_q95, bottom_q50, bottom_median_day, bottom_median_lat,
           (-19.76, 31.23), [-10, 0, 10, 20, 30], list(range(-15, 31, 5)))

fig.text(362 / W, 1 - 40 / H, 'simulated 55\u00b0N', ha='center', va='center', fontsize=15.5,
         weight='bold', color='#222222')
fig.text(362 / W, 1 - 631 / H, 'simulated 5\u00b0N', ha='center', va='center', fontsize=15.5,
         weight='bold', color='#222222')
fig.text(43 / W, 1 - 309 / H, 'Latitude', rotation=90, ha='center', va='center', fontsize=12.7, color='#222222')
fig.text(43 / W, 1 - 900 / H, 'Latitude', rotation=90, ha='center', va='center', fontsize=12.7, color='#222222')

# caption
cap_font = ['Lato', 'DejaVu Sans']
cap_col = '#231f20'
renderer = fig.canvas.get_renderer()
fs = 13
t_bold = fig.text(16 / W, 1 - 1215 / H, 'Fig. 2', weight='bold', family=cap_font, fontsize=fs,
                  va='center', color=cap_col)
t_rest = fig.text(0, 1 - 1215 / H, ' Estimated position of simulated stationary tag by classic approach',
                  family=cap_font, fontsize=fs, va='center', color=cap_col)
t_l2 = fig.text(16 / W, 1 - 1240 / H, '(GeoLight, points) and FLightR (median estimated latitude with 50 and',
                family=cap_font, fontsize=fs, va='center', color=cap_col)
t_l3 = fig.text(16 / W, 1 - 1265 / H, '95 % credible intervals)', family=cap_font, fontsize=fs,
                va='center', color=cap_col)
total = t_bold.get_window_extent(renderer).width + t_rest.get_window_extent(renderer).width
fs = fs * 604 / total
for t in (t_bold, t_rest, t_l2, t_l3):
    t.set_fontsize(fs)
bb = t_bold.get_window_extent(renderer)
t_rest.set_x(bb.x1 / W)

fig.savefig('out.png', dpi=100)
